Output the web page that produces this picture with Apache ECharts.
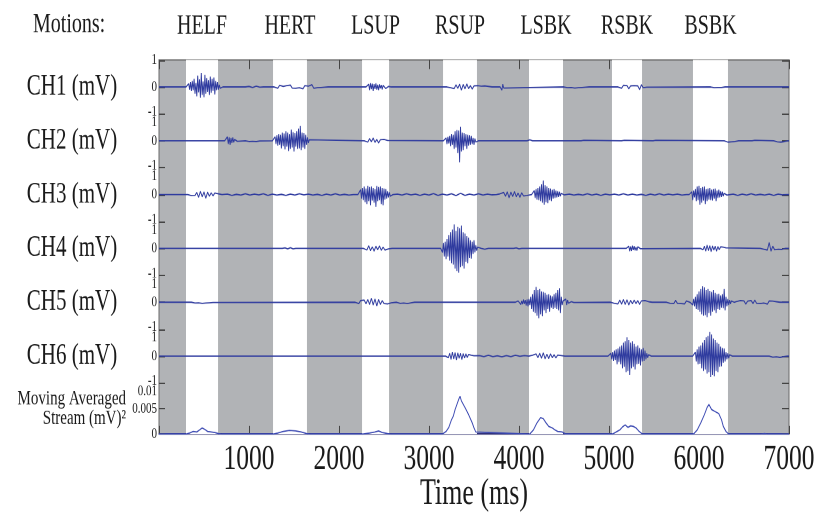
<!DOCTYPE html>
<html><head><meta charset="utf-8">
<script src="https://cdn.jsdelivr.net/npm/echarts@6/dist/echarts.min.js"></script>
<style>
html,body{margin:0;padding:0;background:#fff;overflow:hidden;width:819px;height:513px}
#c{width:819px;height:366px;transform:scaleY(1.40164);transform-origin:0 0;}
</style>
</head><body><div id="c"></div>
<script>
// ---------------- DATA ----------------
const motions = ['HELF', 'HERT', 'LSUP', 'RSUP', 'LSBK', 'RSBK', 'BSBK'];
const motionStart = [300, 1267, 2256, 3156, 4111, 5033, 5933];
const motionEnd = [656, 1644, 2556, 3533, 4489, 5367, 6322];
const channelNames = ['CH1 (mV)', 'CH2 (mV)', 'CH3 (mV)', 'CH4 (mV)', 'CH5 (mV)', 'CH6 (mV)'];
const streamName = 'Moving Averaged\nStream (mV)²';
const xTickLabels = ['', '1000', '2000', '3000', '4000', '5000', '6000', '7000'];

// each burst: [start ms, sample step ms, values (mV)]
const ch1Bursts = [
  [310, 10, [0.05,-0.08,0.12,-0.1,0.18,-0.15,0.22,-0.12,0.3,-0.25,0.15,-0.35,0.42,-0.2,0.28,-0.4,0.52,-0.3,0.2,-0.38,0.45,-0.25,0.33,-0.18,0.25,-0.3,0.38,-0.22,0.3,-0.15,0.35,-0.28,0.22,-0.12,0.18,-0.1,0.08,-0.05,0.03,-0.02]],
  [1000, 40, [0.02,-0.02,0.03,-0.01]],
  [1300, 20, [0.03,-0.05,0.06,-0.03,0.02,-0.06,0.05,-0.02,0.07,-0.04,0.03,-0.05,0.04,-0.03,0.06,-0.07,0.05,-0.02,0.03,-0.04,0.08,-0.05,0.02,-0.03,0.04,-0.02,0.03,-0.01,0.02]],
  [2310, 10, [0.04,-0.06,0.1,-0.12,0.14,-0.08,0.12,-0.15,0.1,-0.07,0.13,-0.1,0.08,-0.12,0.09,-0.05,0.07,-0.09,0.06,-0.04,0.05,-0.06,0.03,-0.04,0.02,-0.02,0.01]],
  [3220, 20, [0.02,-0.03,0.05,-0.06,0.08,-0.05,0.1,-0.12,0.09,-0.07,0.11,-0.06,0.05,-0.08,0.04,-0.03,0.05,-0.04,0.03,-0.02,0.04,-0.03,0.02,-0.01]],
  [3800, 10, [0.08,-0.12,0.1,-0.04]],
  [4520, 20, [0.02,-0.03,0.04,-0.02,0.03,-0.04,0.02,-0.03,0.03,-0.02,0.02,-0.01,0.01]],
  [5120, 20, [0.03,-0.05,0.06,-0.04,0.05,-0.07,0.04,-0.03,0.05,-0.02,0.04,-0.1,0.08,-0.03,0.02,-0.01]],
  [6150, 20, [0.02,-0.03,0.03,-0.02,0.02,-0.02,0.01]]
];
const ch2Bursts = [
  [740, 10, [0.05,-0.1,0.15,-0.12,0.13,-0.15,0.1,-0.08,0.12,-0.06,0.05,-0.04,0.03,-0.02]],
  [980, 20, [0.02,-0.03,0.04,-0.02,0.03,-0.03,0.02,-0.01]],
  [1270, 10, [0.06,-0.1,0.15,-0.12,0.2,-0.18,0.25,-0.15,0.22,-0.28,0.3,-0.2,0.27,-0.32,0.35,-0.22,0.3,-0.38,0.25,-0.3,0.42,-0.25,0.32,-0.4,0.28,-0.22,0.35,-0.3,0.45,-0.28,0.55,-0.35,0.3,-0.25,0.28,-0.3,0.22,-0.15,0.12,-0.08,0.04]],
  [2300, 20, [0.03,-0.05,0.08,-0.04,0.1,-0.06,0.05,-0.08,0.04,-0.03,0.05,-0.02,0.01]],
  [3170, 10, [0.05,-0.08,0.1,-0.12,0.15,-0.1,0.18,-0.2,0.25,-0.15,0.22,-0.3,0.35,-0.25,0.4,-0.45,0.38,-0.8,0.52,-0.4,0.3,-0.35,0.28,-0.2,0.25,-0.3,0.22,-0.18,0.2,-0.15,0.18,-0.12,0.1,-0.15,0.08,-0.05,0.04,-0.02]],
  [4100, 10, [0.05,-0.06,0.04,-0.02,0.01]],
  [4700, 10, [0.03,-0.04,0.02]],
  [5150, 10, [0.04,-0.03,0.02]],
  [5500, 10, [0.05,-0.04,0.02]],
  [6300, 20, [0.04,-0.05,0.03,-0.04,0.05,-0.03,0.02]],
  [6600, 10, [0.03,-0.04,0.02]],
  [6850, 20, [0.02,-0.04,0.03,-0.05,0.04,-0.03,0.02]]
];
const ch3Bursts = [
  [340, 20, [0.02,-0.04,0.05,-0.03,0.08,-0.1,0.12,-0.08,0.1,-0.14,0.09,-0.06,0.07,-0.05,0.06,-0.04,0.03,-0.02]],
  [760, 50, [0.02,-0.03,0.01,-0.02,0.03,-0.02,0.02,-0.01,0.03,-0.03,0.02,-0.02,0.01,-0.03,0.02,-0.02,0.03,-0.01,0.02,-0.02,0.01,-0.03,0.02,-0.02,0.03,-0.02,0.01,-0.02]],
  [2220, 10, [0.05,-0.1,0.18,-0.15,0.25,-0.2,0.3,-0.28,0.22,-0.35,0.33,-0.25,0.28,-0.4,0.3,-0.22,0.25,-0.3,0.2,-0.45,0.32,-0.25,0.28,-0.2,0.3,-0.35,0.25,-0.4,0.22,-0.18,0.2,-0.15,0.12,-0.1,0.08,-0.06,0.04,-0.02]],
  [2650, 50, [0.02,-0.02,0.03,-0.01,0.02,-0.03,0.02,-0.02,0.04,-0.03,0.02,-0.02,0.03,-0.04,0.05,-0.03,0.02,-0.02,0.03,-0.02,0.02,-0.01]],
  [3790, 20, [0.03,-0.05,0.08,-0.06,0.1,-0.12,0.09,-0.07,0.11,-0.08,0.06,-0.1,0.07,-0.05,0.04,-0.03]],
  [4150, 10, [0.05,-0.1,0.15,-0.12,0.2,-0.18,0.25,-0.2,0.3,-0.25,0.38,-0.3,0.52,-0.37,0.35,-0.28,0.3,-0.32,0.25,-0.2,0.22,-0.25,0.18,-0.15,0.2,-0.12,0.15,-0.1,0.12,-0.08,0.1,-0.06,0.05,-0.04,0.03,-0.01]],
  [4560, 50, [0.02,-0.02,0.01,-0.02,0.03,-0.02,0.02,-0.03,0.02,-0.01,0.02,-0.02,0.03,-0.02,0.02,-0.02,0.01,-0.03,0.02,-0.02,0.03,-0.02,0.02,-0.01,0.02,-0.02]],
  [5900, 10, [0.04,-0.08,0.1,-0.2,0.15,-0.1,0.2,-0.25,0.3,-0.2,0.33,-0.37,0.25,-0.3,0.28,-0.22,0.3,-0.35,0.2,-0.25,0.22,-0.18,0.25,-0.2,0.18,-0.22,0.2,-0.15,0.22,-0.25,0.15,-0.12,0.18,-0.1,0.12,-0.08,0.1,-0.06,0.05,-0.04,0.03,-0.02,0.01]],
  [6380, 50, [0.02,-0.03,0.02,-0.02,0.03,-0.02,0.01,-0.02,0.02,-0.03,0.02,-0.01]]
];
const ch4Bursts = [
  [1400, 30, [0.02,-0.02,0.03,-0.02]],
  [2290, 20, [0.03,-0.06,0.1,-0.08,0.06,-0.1,0.08,-0.05,0.09,-0.07,0.05,-0.06,0.04,-0.02,0.01]],
  [3140, 10, [0.05,-0.15,0.2,-0.3,0.25,-0.4,0.35,-0.3,0.5,-0.45,0.6,-0.55,0.7,-0.6,0.89,-0.75,0.65,-0.85,0.8,-0.9,0.75,-0.7,0.85,-0.65,0.6,-0.75,0.55,-0.5,0.45,-0.55,0.4,-0.35,0.3,-0.38,0.25,-0.2,0.3,-0.15,0.12,-0.08,0.05,-0.02]],
  [3600, 20, [0.02,-0.03,0.02]],
  [3970, 30, [0.02,-0.02]],
  [5200, 10, [0.03,-0.06,0.08,-0.1,0.07,-0.09,0.1,-0.06,0.08,-0.07,0.05,-0.08,0.06,-0.04,0.03,-0.01]],
  [6030, 15, [0.03,-0.05,0.08,-0.1,0.12,-0.08,0.1,-0.12,0.09,-0.06,0.08,-0.1,0.07,-0.05,0.06,-0.04,0.05,-0.03,0.02]],
  [6700, 20, [0.02,-0.03,0.05,-0.06,0.22,-0.1,0.08,-0.05,0.04,-0.03,0.03,-0.04,0.02]]
];
const ch5Bursts = [
  [380, 20, [0.02,-0.03,0.04,-0.02,0.03,-0.04,0.02,-0.03,0.04,-0.02,0.03,-0.01]],
  [2200, 20, [0.03,-0.05,0.06,-0.04,0.08,-0.06,0.1,-0.08,0.15,-0.1,0.12,-0.14,0.1,-0.08,0.06,-0.05,0.04,-0.06,0.03,-0.02]],
  [2660, 20, [0.03,-0.04,0.05,-0.03,0.04,-0.05,0.03,-0.02,0.01]],
  [3970, 10, [0.02,-0.04,0.05,-0.03,0.06,-0.08,0.05,-0.07,0.1,-0.06,0.08,-0.12,0.1,-0.15,0.12,-0.1,
              0.2,-0.25,0.3,-0.35,0.45,-0.4,0.57,-0.5,0.45,-0.6,0.5,-0.45,0.4,-0.52,0.38,-0.3,0.35,-0.4,0.28,-0.25,0.3,-0.35,0.25,-0.2,0.22,-0.25,0.3,-0.2,0.35,-0.25,0.45,-0.3,0.52,-0.4,0.2,-0.1,0.05,
              0.03,-0.05,0.12,-0.1,0.08,-0.04,0.03,-0.02,0.02,-0.03,0.02,-0.01,0.01]],
  [5040, 20, [0.02,-0.04,0.05,-0.06,0.08,-0.07,0.1,-0.08,0.09,-0.1,0.07,-0.06,0.08,-0.05,0.06,-0.08,0.05,-0.04,0.06,-0.03,0.02,-0.01]],
  [5660, 20, [0.02,-0.04,0.06,-0.05,0.07,-0.04,0.03,-0.05,0.04,-0.06,0.05,-0.03]],
  [5920, 10, [0.05,-0.1,0.12,-0.15,0.2,-0.25,0.3,-0.28,0.4,-0.35,0.5,-0.45,0.6,-0.5,0.55,-0.48,0.45,-0.55,0.5,-0.4,0.42,-0.5,0.38,-0.35,0.45,-0.3,0.35,-0.4,0.3,-0.25,0.32,-0.28,0.25,-0.2,0.3,-0.22,0.5,-0.3,0.2,-0.15,0.12,-0.1,0.08,-0.06,0.05,-0.03,0.02]],
  [6420, 20, [0.03,-0.05,0.06,-0.04,0.05,-0.07,0.04,-0.03,0.06,-0.05,0.08,-0.04,0.03,-0.05,0.04,-0.03,0.06,-0.07,0.05,-0.03,0.04,-0.02,0.02,-0.01]]
];
const ch6Bursts = [
  [3200, 15, [0.03,-0.06,0.1,-0.12,0.15,-0.1,0.13,-0.15,0.12,-0.08,0.1,-0.13,0.09,-0.07,0.08,-0.05,0.06,-0.04,0.03,-0.02,0.01]],
  [3560, 50, [0.02,-0.02,0.03,-0.02,0.01,-0.03,0.02,-0.02,0.03,-0.01,0.02]],
  [4150, 20, [0.03,-0.05,0.08,-0.06,0.1,-0.08,0.12,-0.1,0.07,-0.09,0.08,-0.06,0.05,-0.07,0.04,-0.03,0.02,-0.01]],
  [5000, 10, [0.03,-0.06,0.1,-0.12,0.15,-0.18,0.2,-0.15,0.25,-0.3,0.28,-0.22,0.35,-0.3,0.4,-0.45,0.5,-0.4,0.55,-0.6,0.7,-0.55,0.6,-0.7,0.5,-0.45,0.55,-0.4,0.45,-0.5,0.35,-0.3,0.4,-0.28,0.3,-0.35,0.25,-0.2,0.3,-0.18,0.2,-0.12,0.1,-0.06,0.05,-0.03,0.02]],
  [5940, 10, [0.05,-0.1,0.15,-0.2,0.25,-0.3,0.35,-0.28,0.4,-0.45,0.5,-0.55,0.6,-0.5,0.7,-0.65,0.75,-0.6,0.89,-0.78,0.8,-0.7,0.65,-0.75,0.6,-0.55,0.5,-0.6,0.45,-0.4,0.35,-0.38,0.3,-0.25,0.28,-0.2,0.15,-0.12,0.1,-0.08,0.05,-0.03,0.02]],
  [6800, 20, [0.03,-0.04,0.05,-0.03,0.04,-0.05,0.03,-0.02,0.01]]
];
const streamTime = [0,300,340,380,420,450,480,510,540,580,620,660,700,1270,1320,1380,1450,1520,1580,1640,1680,2260,2340,2400,2440,2480,2540,2580,3150,3190,3220,3250,3270,3290,3310,3330,3345,3360,3380,3400,3420,3440,3460,3480,3500,3520,3540,4120,4160,4200,4240,4270,4300,4330,4370,4400,4430,4450,4480,4500,4520,5040,5080,5120,5150,5180,5210,5240,5270,5300,5330,5350,5370,5940,5980,6020,6060,6090,6110,6140,6160,6190,6220,6250,6270,6300,6330,6680,6700,6730,6760,7000];
const streamValue = [0,0,0.0002,0.0005,0.0004,0.0008,0.0012,0.0009,0.0005,0.0004,0.0003,0.0001,0,0,0.0002,0.0005,0.0007,0.0006,0.0004,0.0001,0,0,0.0002,0.0004,0.0006,0.0003,0.0001,0,0,0.0005,0.0013,0.0028,0.0035,0.0048,0.0058,0.0068,0.0074,0.0065,0.006,0.0052,0.0045,0.0038,0.003,0.0022,0.0012,0.0004,0,0,0.0008,0.0022,0.0032,0.003,0.0022,0.0015,0.0012,0.0008,0.0005,0.0007,0.0004,0.0001,0,0,0.0004,0.0008,0.0014,0.0018,0.0013,0.0016,0.0015,0.0012,0.0006,0.0002,0,0,0.0008,0.0022,0.0038,0.0052,0.0058,0.0048,0.0052,0.0043,0.004,0.0028,0.0015,0.0005,0,0,0.0002,0.0001,0,0];

// ---------------- LAYOUT ----------------
const S = 513 / 366;           // vertical stretch of the figure
const Y = v => v / S;          // reference px -> chart px
const FONT = 'Liberation Serif';
const TXT = '#1a1a1a';
const LINE = '#2f3b9f';
const BG = '#b1b3b6';
const LEFT = 159, RIGHT = 30;
const plotTop = 60, plotBottom = 434, chH = 53.83, streamTop = 383;

function build(bursts) {
  const pts = [[0, 0]];
  bursts.forEach(([s, st, vals]) => {
    pts.push([s - st, 0]);
    vals.forEach((v, i) => pts.push([s + i * st, v]));
    pts.push([s + vals.length * st, 0]);
  });
  pts.push([7000, 0]);
  pts.sort((a, b) => a[0] - b[0]);
  return pts;
}
const channels = [ch1Bursts, ch2Bursts, ch3Bursts, ch4Bursts, ch5Bursts, ch6Bursts].map(build);
const streamData = streamTime.map((t, i) => [t, streamValue[i]]);

const grid = [{
  left: LEFT, right: RIGHT, top: Y(plotTop), height: Y(plotBottom - plotTop),
  show: true, backgroundColor: BG, borderColor: '#6a6a6a', borderWidth: 1, outerBoundsMode: 'none'
}];
for (let k = 0; k < 6; k++) grid.push({ left: LEFT, right: RIGHT, top: Y(plotTop + chH * k), height: Y(chH), outerBoundsMode: 'none' });
grid.push({ left: LEFT, right: RIGHT, top: Y(streamTop), height: Y(plotBottom - streamTop), outerBoundsMode: 'none' });

const xAxis = [
  { gridIndex: 0, type: 'value', min: 0, max: 7000, interval: 1000, position: 'bottom',
    axisLine: { show: true, lineStyle: { color: '#30307a', width: 1 } },
    axisTick: { show: true, inside: true, length: Y(8), lineStyle: { color: '#444' } },
    splitLine: { show: false },
    axisLabel: { margin: 5, fontFamily: FONT, fontSize: 25.5, color: TXT, formatter: (v) => xTickLabels[Math.round(v / 1000)] },
    name: 'Time (ms)', nameLocation: 'middle', nameGap: 30, nameMoveOverlap: false,
    nameTextStyle: { fontFamily: FONT, fontSize: 26, lineHeight: 26, color: TXT } },
  { gridIndex: 0, type: 'value', min: 0, max: 7000, interval: 1000, position: 'top',
    axisLine: { show: false }, axisLabel: { show: false }, splitLine: { show: false },
    axisTick: { show: true, inside: true, length: Y(9), lineStyle: { color: '#444' } } }
];
for (let g = 1; g <= 7; g++) xAxis.push({ gridIndex: g, type: 'value', min: 0, max: 7000, show: false });

const yAxis = [{ gridIndex: 0, type: 'value', min: 0, max: 1, show: false }];
const richBase = { fontFamily: FONT, fontSize: 11, lineHeight: 10, color: TXT };
const rich = {
  n: Object.assign({}, richBase),
  d: Object.assign({ padding: [12, 0, 0, 0] }, richBase),
  u: Object.assign({ padding: [0, 0, 3, 0] }, richBase)
};
for (let k = 0; k < 6; k++) {
  yAxis.push({
    gridIndex: k + 1, type: 'value', min: -1, max: 1, interval: 1, position: 'left',
    axisLine: { show: false }, splitLine: { show: false },
    axisTick: { show: true, inside: true, length: 6, lineStyle: { color: '#444' } },
    axisLabel: { margin: 2, rich, formatter: (v) => v === 1 ? (k === 0 ? '{n|1}' : '{d|1}') : v === -1 ? '{u|-1}' : '{n|0}' },
    name: channelNames[k], nameLocation: 'middle', nameRotate: 0, nameGap: 87, nameMoveOverlap: false,
    nameTextStyle: { fontFamily: FONT, fontSize: 21, color: TXT, align: 'center', verticalAlign: 'middle' }
  });
  yAxis.push({
    gridIndex: k + 1, type: 'value', min: -1, max: 1, interval: 1, position: 'right',
    axisLine: { show: false }, splitLine: { show: false }, axisLabel: { show: false },
    axisTick: { show: true, inside: true, length: 7, lineStyle: { color: '#444' } }
  });
}
yAxis.push({
  gridIndex: 7, type: 'value', min: 0, max: 0.01, interval: 0.005, position: 'left',
  axisLine: { show: false }, splitLine: { show: false },
  axisTick: { show: true, inside: true, length: 6, lineStyle: { color: '#444' } },
  axisLabel: { margin: 2, rich, formatter: (v) => v >= 0.0099 ? '{d|0.01}' : v > 0 ? '{n|0.005}' : '{n|0}' },
  name: streamName, nameLocation: 'middle', nameRotate: 0, nameGap: 33, nameMoveOverlap: false,
  nameTextStyle: { fontFamily: FONT, fontSize: 15, lineHeight: 14, color: TXT, align: 'right', verticalAlign: 'middle', padding: [0, 0, 10, 0] }
});
yAxis.push({
  gridIndex: 7, type: 'value', min: 0, max: 0.01, interval: 0.005, position: 'right',
  axisLine: { show: false }, splitLine: { show: false }, axisLabel: { show: false },
  axisTick: { show: true, inside: true, length: 7, lineStyle: { color: '#444' } }
});

const series = [{
  type: 'line', xAxisIndex: 0, yAxisIndex: 0, data: [[0, -5]], showSymbol: false, symbol: 'none',
  lineStyle: { width: 0, opacity: 0 }, silent: true, z: 1,
  markArea: {
    silent: true,
    itemStyle: { color: '#ffffff', opacity: 1 },
    label: { show: true, position: 'top', distance: 14.3, fontFamily: FONT, fontSize: 20, color: TXT },
    data: motions.map((m, i) => [{ name: m, xAxis: motionStart[i] }, { xAxis: motionEnd[i] }])
  }
}];
channels.forEach((d, k) => series.push({
  type: 'line', xAxisIndex: 2 + k, yAxisIndex: 1 + 2 * k, data: d, symbol: 'none', z: 3,
  lineStyle: { color: LINE, width: 0.9 }
}));
series.push({
  type: 'line', xAxisIndex: 8, yAxisIndex: 13, data: streamData, symbol: 'none', z: 3,
  lineStyle: { color: '#3a48b2', width: 0.9 }
});

const chart = echarts.init(document.getElementById('c'), null, { renderer: 'canvas', devicePixelRatio: 2 });
chart.setOption({
  animation: false,
  backgroundColor: '#ffffff',
  title: { text: 'Motions:', left: 33, top: Y(26) - 11, padding: 0,
    textStyle: { fontFamily: FONT, fontSize: 20, fontWeight: 'normal', color: TXT } },
  grid, xAxis, yAxis, series
});
</script></body></html>
